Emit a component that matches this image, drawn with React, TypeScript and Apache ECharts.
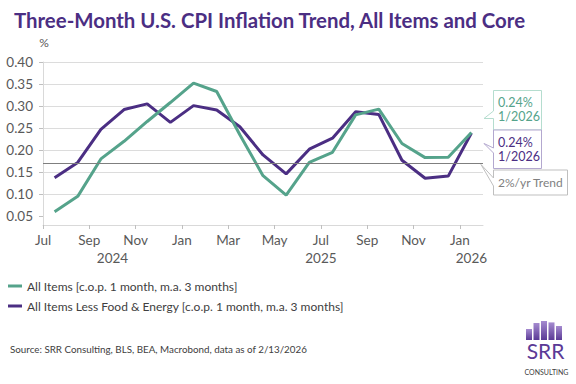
import React, { useEffect, useRef } from "react";
import * as echarts from "echarts";

// ---- data ----
const periods = [
  "2024-07", "2024-08", "2024-09", "2024-10", "2024-11", "2024-12",
  "2025-01", "2025-02", "2025-03", "2025-04", "2025-05", "2025-06",
  "2025-07", "2025-08", "2025-09", "2025-10", "2025-11", "2025-12",
  "2026-01",
];
const allItems = [
  0.06, 0.095, 0.18, 0.22, 0.265, 0.308, 0.352, 0.333, 0.235, 0.142,
  0.098, 0.172, 0.195, 0.28, 0.293, 0.215, 0.183, 0.184, 0.24,
];
const coreItems = [
  0.137, 0.172, 0.247, 0.292, 0.305, 0.263, 0.301, 0.291, 0.253, 0.189,
  0.146, 0.202, 0.227, 0.287, 0.281, 0.177, 0.136, 0.141, 0.239,
];
const TREND = 0.165;
const yTicks = [0.05, 0.1, 0.15, 0.2, 0.25, 0.3, 0.35, 0.4];
const xTickValues = [0, 2, 4, 6, 8, 10, 12, 14, 16, 18];
const xTickLabels = ["Jul", "Sep", "Nov", "Jan", "Mar", "May", "Jul", "Sep", "Nov", "Jan"];
const yearValues = [3, 12, 18.5];
const yearLabels = ["2024", "2025", "2026"];
const seriesNames = [
  "All Items [c.o.p. 1 month, m.a. 3 months]",
  "All Items Less Food & Energy [c.o.p. 1 month, m.a. 3 months]",
];
const lastPeriodLabel = "1/2026";
const logoBars = [0.55, 0.85, 0.95, 0.88, 0.7];

const GREEN = "#55a38b";
const PURPLE = "#4b2e83";
const FONT = "Lato, 'Open Sans', sans-serif";
const AXIS_TEXT = "#595959";

export default function App() {
  const ref = useRef<HTMLDivElement>(null);
  useEffect(() => {
    document.body.style.margin = "0";
    const chart = echarts.init(ref.current!, null, { renderer: "svg" });
    const toXY = (vals: number[]) => periods.map((_, i) => [i + 0.5, vals[i]]);
    const lastA = allItems[allItems.length - 1];
    const lastC = coreItems[coreItems.length - 1];

    const barW = 6, barGap = 1.5, barX0 = 526, barBottom = 340, barMaxH = 20;
    const logo = logoBars.map((h, i) => ({
      type: "rect",
      shape: { x: barX0 + i * (barW + barGap), y: barBottom - h * barMaxH, width: barW, height: h * barMaxH },
      style: {
        fill: new echarts.graphic.LinearGradient(0, 0, 0, 1, [
          { offset: 0, color: "#a58bd0" },
          { offset: 1, color: "#5b3a96" },
        ]),
      },
    }));

    chart.setOption({
      animation: false,
      textStyle: { fontFamily: FONT },
      title: {
        text: "Three-Month U.S. CPI Inflation Trend, All Items and Core",
        left: 9,
        top: 5,
        textStyle: { fontFamily: FONT, fontSize: 20.4, fontWeight: "bold", color: PURPLE },
      },
      grid: { left: 43, right: 93, top: 62, bottom: 159, containLabel: false },
      legend: {
        orient: "vertical",
        left: 8,
        top: 280,
        padding: 0,
        itemWidth: 14,
        itemHeight: 3,
        itemGap: 8,
        icon: "rect",
        data: seriesNames,
        textStyle: { fontFamily: FONT, fontSize: 12, color: "#404040" },
      },
      xAxis: [
        {
          type: "value",
          min: 0,
          max: 19,
          axisLine: { show: true, onZero: false, lineStyle: { color: "#d9d9d9" } },
          axisTick: { show: true, length: 4, customValues: xTickValues, lineStyle: { color: "#bfbfbf" } },
          axisLabel: {
            customValues: xTickValues,
            formatter: (v: number) => xTickLabels[xTickValues.indexOf(v)] ?? "",
            color: AXIS_TEXT,
            fontSize: 13.5,
            margin: 8,
            fontFamily: FONT,
          },
          splitLine: { show: false },
        },
        {
          type: "value",
          min: 0,
          max: 19,
          position: "bottom",
          offset: 18,
          axisLine: { show: false },
          axisTick: { show: false },
          axisLabel: {
            customValues: yearValues,
            formatter: (v: number) => yearLabels[yearValues.indexOf(v)] ?? "",
            color: AXIS_TEXT,
            fontSize: 13.5,
            margin: 8,
            fontFamily: FONT,
          },
          splitLine: { show: false },
        },
      ],
      yAxis: {
        type: "value",
        min: 0.03,
        max: 0.4,
        splitNumber: 8,
        axisLine: { show: true, lineStyle: { color: "#d9d9d9" } },
        axisTick: { show: true, length: 4, customValues: yTicks, lineStyle: { color: "#bfbfbf" } },
        axisLabel: {
          customValues: yTicks,
          formatter: (v: number) => v.toFixed(2),
          color: AXIS_TEXT,
          fontSize: 13.5,
          margin: 10,
          fontFamily: FONT,
        },
        splitLine: { show: true, showMinLine: false, lineStyle: { color: "#dcdcdc" } },
      },
      series: [
        {
          name: "trend",
          type: "line",
          data: [],
          silent: true,
          z: 1,
          markLine: {
            silent: true,
            symbol: ["none", "none"],
            label: { show: false },
            lineStyle: { color: "#7f7f7f", width: 1, type: "solid" },
            data: [{ yAxis: TREND }],
          },
        },
        {
          name: seriesNames[1],
          type: "line",
          data: toXY(coreItems),
          showSymbol: false,
          symbol: "none",
          z: 2,
          itemStyle: { color: PURPLE },
          lineStyle: { color: PURPLE, width: 3 },
        },
        {
          name: seriesNames[0],
          type: "line",
          data: toXY(allItems),
          showSymbol: false,
          symbol: "none",
          z: 3,
          itemStyle: { color: GREEN },
          lineStyle: { color: GREEN, width: 3 },
        },
      ],
      graphic: [
        {
          type: "text",
          x: 44,
          y: 42,
          style: { text: "%", fill: AXIS_TEXT, fontSize: 12, fontFamily: FONT, align: "center", verticalAlign: "middle" },
        },
        // callouts
        {
          type: "polygon",
          shape: { points: [[493.5, 90.5], [541.5, 90.5], [541.5, 130], [493.5, 130], [493.5, 118.5], [484, 118.5], [493.5, 111]] },
          style: { fill: "#fff", stroke: "#b5ddcf", lineWidth: 1 },
          z: 10,
        },
        {
          type: "polygon",
          shape: { points: [[493.5, 130], [541.5, 130], [541.5, 168.5], [493.5, 168.5], [493.5, 153], [484, 143.5], [493.5, 148]] },
          style: { fill: "#fff", stroke: "#b3a8cf", lineWidth: 1 },
          z: 10,
        },
        {
          type: "polygon",
          shape: { points: [[493.5, 170], [567.5, 170], [567.5, 195], [493.5, 195], [493.5, 186], [481, 164.5], [493.5, 178]] },
          style: { fill: "#fff", stroke: "#bfbfbf", lineWidth: 1 },
          z: 10,
        },
        {
          type: "text", x: 498, y: 102, z: 11,
          style: { text: lastA.toFixed(2) + "%", fill: GREEN, fontSize: 12.5, fontFamily: FONT, verticalAlign: "middle" },
        },
        {
          type: "text", x: 498, y: 116.5, z: 11,
          style: { text: lastPeriodLabel, fill: GREEN, fontSize: 12.5, fontFamily: FONT, verticalAlign: "middle" },
        },
        {
          type: "text", x: 498, y: 142, z: 11,
          style: { text: lastC.toFixed(2) + "%", fill: PURPLE, fontSize: 12.5, fontFamily: FONT, verticalAlign: "middle" },
        },
        {
          type: "text", x: 498, y: 156, z: 11,
          style: { text: lastPeriodLabel, fill: PURPLE, fontSize: 12.5, fontFamily: FONT, verticalAlign: "middle" },
        },
        {
          type: "text", x: 498, y: 182.5, z: 11,
          style: { text: "2%/yr Trend", fill: "#7f7f7f", fontSize: 12, fontFamily: FONT, verticalAlign: "middle" },
        },
        {
          type: "text", x: 10, y: 349,
          style: { text: "Source: SRR Consulting, BLS, BEA, Macrobond, data as of 2/13/2026", fill: "#404040", fontSize: 9.8, fontFamily: FONT, verticalAlign: "middle" },
        },
        ...logo,
        {
          type: "text", x: 545.5, y: 350, z: 5,
          style: { text: "SRR", fill: "#5b3a96", fontSize: 21, fontFamily: FONT, align: "center", verticalAlign: "middle" },
        },
        {
          type: "text", x: 546.5, y: 372, z: 5,
          style: { text: "CONSULTING", fill: "#404040", fontSize: 7, fontFamily: FONT, align: "center", verticalAlign: "middle" },
        },
      ],
    });
    return () => chart.dispose();
  }, []);
  return <div ref={ref} style={{ position: "absolute", left: 0, top: 0, width: 576, height: 384 }} />;
}
